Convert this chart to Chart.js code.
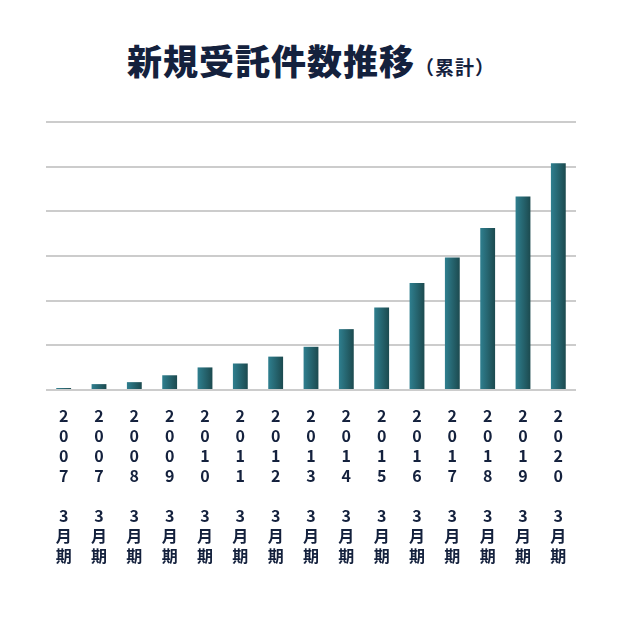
<!DOCTYPE html>
<html><head><meta charset="utf-8">
<script src="https://cdn.jsdelivr.net/npm/chart.js@4/dist/chart.umd.min.js"></script>
<style>
html,body{margin:0;padding:0;background:#fff;}
#wrap{position:relative;width:622px;height:632px;}
#title{position:absolute;top:34px;left:0;width:622px;text-align:center;font-family:"Noto Sans CJK JP";font-weight:900;color:#14213d;font-size:35px;letter-spacing:1px;}
#title small{font-size:19px;font-weight:700;}
canvas{position:absolute;top:0;left:0;}
</style></head>
<body><div id="wrap">
<div id="title">新規受託件数推移<small>（累計）</small></div>
<canvas id="c" width="622" height="632"></canvas>
</div>
<script>
const years = ['2007','2007','2008','2009','2010','2011','2012','2013','2014','2015','2016','2017','2018','2019','2020'];
const values = [2,6,8,15,23,27,34,44,62,84,109,135,165,197,231];
const yMax = 273;
const yStep = 45.5;

document.addEventListener('DOMContentLoaded', ()=>{
  const labels = years.map(y => [...y.split(''), '', '3', '月', '期']);
  const gradPlugin = {
    id: 'grad',
    beforeDatasetsDraw(chart){
      const ctx = chart.ctx;
      chart.getDatasetMeta(0).data.forEach(el=>{
        const g = ctx.createLinearGradient(el.x - el.width/2, 0, el.x + el.width/2, 0);
        g.addColorStop(0, '#2f7f8f');
        g.addColorStop(1, '#1c4a4f');
        el.options = Object.assign({}, el.options, { backgroundColor: g });
      });
    }
  };
  new Chart(document.getElementById('c'), {
    type: 'bar',
    data: { labels, datasets: [{ data: values, backgroundColor: values.map(()=>'#266570'), barPercentage: 0.42, categoryPercentage: 1 }] },
    options: {
      responsive: false, animation: false,
      layout: { padding: { top: 122, left: 46, right: 46, bottom: 58 } },
      plugins: { legend: { display: false }, tooltip: { enabled: false } },
      scales: {
        x: {
          grid: { display: false }, border: { display: false },
          ticks: { autoSkip: false, maxRotation: 0, minRotation: 0, padding: 8, color: '#14213d',
                   font: { family: 'Noto Sans CJK JP', size: 16, weight: 'bold', lineHeight: 1.25 } }
        },
        y: {
          min: 0, max: yMax,
          ticks: { display: false, stepSize: yStep },
          grid: { color: '#cccccc', lineWidth: 2, drawTicks: false },
          border: { display: false }
        }
      }
    },
    plugins: [gradPlugin]
  });
});
</script>
</body></html>
